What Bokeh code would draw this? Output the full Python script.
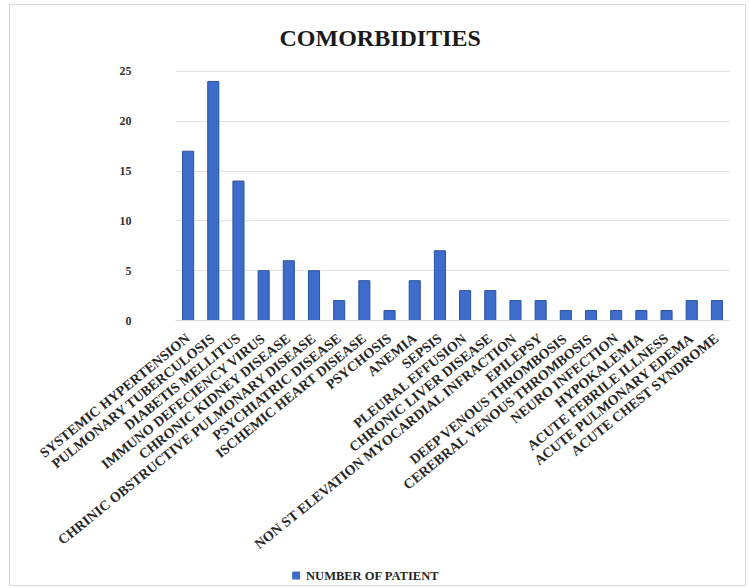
from bokeh.plotting import figure
from bokeh.models import FactorRange, Range1d
from bokeh.layouts import column
from bokeh.core.properties import value
from bokeh.embed import file_html
from bokeh.resources import INLINE

categories = [
    "SYSTEMIC HYPERTENSION", "PULMONARY TUBERCULOSIS", "DIABETIS MELLITUS",
    "IMMUNO DEFECIENCY VIRUS", "CHRONIC KIDNEY DISEASE",
    "CHRINIC OBSTRUCTIVE PULMONARY DISEASE", "PSYCHIATRIC DISEASE",
    "ISCHEMIC HEART DISEASE", "PSYCHOSIS", "ANEMIA", "SEPSIS",
    "PLEURAL EFFUSION", "CHRONIC LIVER DISEASE",
    "NON ST ELEVATION MYOCARDIAL INFRACTION", "EPILEPSY",
    "DEEP VENOUS THROMBOSIS", "CEREBRAL VENOUS THROMBOSIS", "NEURO INFECTION",
    "HYPOKALEMIA", "ACUTE FEBRILE ILLNESS", "ACUTE PULMONARY EDEMA",
    "ACUTE CHEST SYNDROME",
]
patients = [17, 24, 14, 5, 6, 5, 2, 4, 1, 4, 7, 3, 3, 2, 2, 1, 1, 1, 1, 1, 2, 2]
y_ticks = [0, 5, 10, 15, 20, 25]
series_name = "NUMBER OF PATIENT"
title_text = "COMORBIDITIES"

FONT = "Liberation Serif"
BAR = "#3d6ccb"

p = figure(
    x_range=FactorRange(*categories), y_range=Range1d(0, 25.3),
    width=735, height=555, output_backend="svg", toolbar_location=None,
    min_border_left=165, min_border_right=16, min_border_top=63, min_border_bottom=240,
    title=title_text,
)

p.title.align = "left"
p.title.offset = 104
p.title.text_font = FONT
p.title.text_font_size = "24px"
p.title.text_font_style = "bold"
p.title.text_color = "#1a1a1a"
p.title.standoff = 35

r = p.vbar(x=categories, top=patients, width=0.44,
           fill_color=BAR, line_color="#2a539f", line_width=1)

p.outline_line_color = None
p.xgrid.grid_line_color = None
p.ygrid.grid_line_color = "#e4e4e4"
p.ygrid.grid_line_width = 1

p.yaxis.ticker = y_ticks
p.yaxis.axis_line_color = None
p.yaxis.major_tick_line_color = None
p.yaxis.minor_tick_line_color = None
p.yaxis.major_label_text_font = FONT
p.yaxis.major_label_text_font_style = "bold"
p.yaxis.major_label_text_font_size = "12px"
p.yaxis.major_label_text_color = "#333333"
p.yaxis.major_label_standoff = 38

p.xaxis.axis_line_color = "#d9d9d9"
p.xaxis.major_tick_line_color = None
p.xaxis.minor_tick_line_color = None
p.xaxis.major_label_orientation = 0.68
p.xaxis.major_label_text_font = FONT
p.xaxis.major_label_text_font_style = "bold"
p.xaxis.major_label_text_font_size = "14px"
p.xaxis.major_label_text_color = "#262626"
p.xaxis.major_label_standoff = 10

# legend strip: a small axis-less figure; its frame lines up with the main frame
lg = figure(width=735, height=25, x_range=Range1d(0, 560), y_range=Range1d(0, 25),
            x_axis_location=None, y_axis_location=None,
            output_backend="svg", toolbar_location=None,
            min_border_left=165, min_border_right=10, min_border_top=0, min_border_bottom=0)
lg.grid.visible = False
lg.outline_line_color = None
lg.scatter(x=[122], y=[10], marker="square", size=7, fill_color=BAR, line_color=BAR)
lg.text(x=[132], y=[10], text=[series_name], text_font=value(FONT),
        text_font_style="bold", text_font_size="12.5px", text_color="#262626",
        text_baseline="middle", text_align="left")

layout = column(p, lg, spacing=0)
layout.styles = {"margin": "4px 0 0 9px", "border": "1px solid #d9d9d9"}

open("out.html", "w").write(file_html(layout, INLINE))
